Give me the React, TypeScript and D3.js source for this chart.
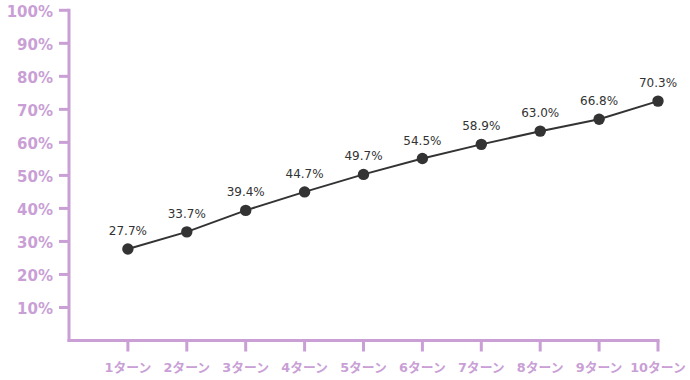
import React from "react";
import * as d3 from "d3";

const categories = ["1ターン", "2ターン", "3ターン", "4ターン", "5ターン", "6ターン", "7ターン", "8ターン", "9ターン", "10ターン"];
const values = [27.7, 32.9, 39.4, 45.0, 50.3, 55.1, 59.4, 63.4, 67.0, 72.5];
const valueLabels = ["27.7%", "33.7%", "39.4%", "44.7%", "49.7%", "54.5%", "58.9%", "63.0%", "66.8%", "70.3%"];
const yTicks = [10, 20, 30, 40, 50, 60, 70, 80, 90, 100];

const W = 690;
const H = 380;
const AXIS = "#c99fd6";
const INK = "#333333";

export default function App() {
  const x = d3.scaleLinear().domain([0, categories.length]).range([69, 658]);
  const y = d3.scaleLinear().domain([0, 100]).range([340.5, 10.3]);
  const line = d3
    .line<number>()
    .x((_, i) => x(i + 1))
    .y((d) => y(d));

  return (
    <svg
      width={W}
      height={H}
      style={{ position: "absolute", left: 0, top: 0 }}
      fontFamily="'DejaVu Sans', 'Noto Sans CJK JP', sans-serif"
    >
      {/* y axis */}
      <line x1={x(0)} x2={x(0)} y1={y(100) - 1.5} y2={y(0) + 1.5} stroke={AXIS} strokeWidth={3} />
      {yTicks.map((t) => (
        <g key={t}>
          <line x1={x(0) - 10} x2={x(0)} y1={y(t)} y2={y(t)} stroke={AXIS} strokeWidth={3} />
          <text x={53} y={y(t) + 7} textAnchor="end" fontSize={15} fontWeight="bold" fill={AXIS}>
            {t}%
          </text>
        </g>
      ))}
      {/* x axis */}
      <line x1={x(0) - 1.5} x2={x(categories.length) + 1.5} y1={y(0)} y2={y(0)} stroke={AXIS} strokeWidth={3} />
      {categories.map((c, i) => (
        <g key={c}>
          <line x1={x(i + 1)} x2={x(i + 1)} y1={y(0)} y2={y(0) + 11} stroke={AXIS} strokeWidth={3} />
          <text x={x(i + 1)} y={371.5} textAnchor="middle" fontSize={12.8} fontWeight="bold" fill={AXIS}>
            {c}
          </text>
        </g>
      ))}
      {/* line */}
      <path d={line(values) || ""} fill="none" stroke={INK} strokeWidth={2} />
      {values.map((v, i) => (
        <g key={i}>
          <circle cx={x(i + 1)} cy={y(v)} r={5.7} fill={INK} />
          <text x={x(i + 1)} y={y(v) - 14} textAnchor="middle" fontSize={12} fill={INK}>
            {valueLabels[i]}
          </text>
        </g>
      ))}
    </svg>
  );
}
